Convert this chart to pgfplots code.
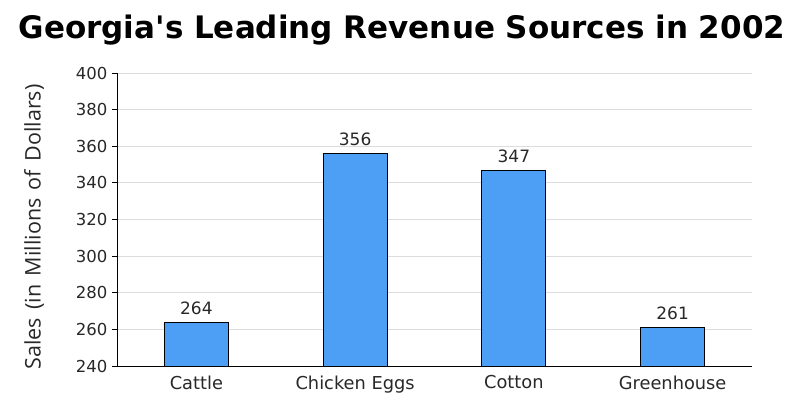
\documentclass[border=0pt]{standalone}
\usepackage{pgfplots}
\pgfplotsset{compat=1.18}
\usepackage{fontspec}
\setmainfont{DejaVu Sans}
\newfontfamily\labfont{Open Sans}[WordSpace=1.5]
\definecolor{barblue}{RGB}{77,159,245}
\definecolor{gridgray}{RGB}{221,221,221}
\definecolor{txt}{RGB}{40,40,40}
\begin{document}
\begin{tikzpicture}[x=1pt,y=1pt]
\path (0,0) rectangle (800,413);
\node[font=\fontsize{31}{33}\selectfont\bfseries, anchor=center] at (402,383) {Georgia\textquotesingle s Leading Revenue Sources in 2002};
\node[font=\labfont\fontsize{21.5}{23}\selectfont, text=txt, rotate=90, anchor=center] at (34,186) {Sales (in Millions of Dollars)};
\begin{axis}[
  at={(117pt,47pt)}, anchor=south west,
  scale only axis, width=635pt, height=293pt,
  xmin=-0.5, xmax=3.5, ymin=240, ymax=400,
  ytick={240,260,...,400},
  xtick={0,1,2,3},
  xticklabels={Cattle,Chicken Eggs,Cotton,Greenhouse},
  axis x line=bottom, axis y line=left,
  axis line style={-, black, line width=1pt},
  x axis line style={-},
  y axis line style={-},
  major x tick style={draw=none},
  major y tick style={black, line width=1pt},
  tick align=outside, major tick length=5pt,
  ymajorgrids, grid style={gridgray, line width=0.8pt},
  /pgf/number format/assume math mode=true,
  yticklabel style={font=\fontsize{16.5}{18}\selectfont, text=txt, xshift=-1pt},
  xticklabel style={font=\fontsize{17.8}{19}\selectfont, text=txt, yshift=-1pt},
  ybar, bar width=64pt,
  nodes near coords,
  every node near coord/.append style={font=\fontsize{17}{19}\selectfont, text=txt, yshift=4pt},
  clip=false,
]
\addplot[fill=barblue, draw=black, line width=0.8pt] coordinates {(0,264) (1,356) (2,347) (3,261)};
\end{axis}
\end{tikzpicture}
\end{document}
